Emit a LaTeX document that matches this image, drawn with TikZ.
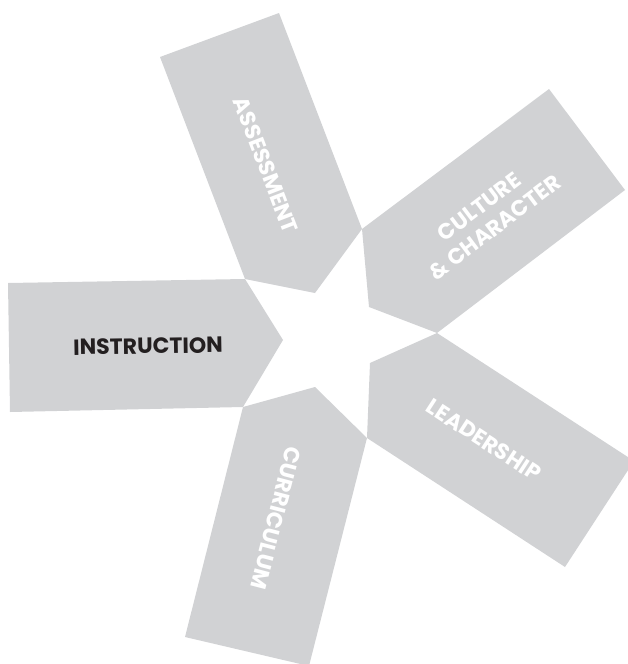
\documentclass[tikz,border=0pt]{standalone}
\usepackage{fontspec}
\setmainfont{Poppins}
\usetikzlibrary{positioning}
\definecolor{petalgray}{HTML}{D1D2D4}
\definecolor{inkdark}{HTML}{231F20}

\begin{document}
\begin{tikzpicture}[x=1pt,y=-1pt,
% Petal style
petal/.style={fill=petalgray,draw=none},
% Label style
tag/.style={font=\bfseries\fontsize{22}{26}\selectfont,text=white,
	align=center,inner sep=0pt},
]
\useasboundingbox (0,0) rectangle (627,664);
%% Shoulders shared by two petals
\coordinate (s1) at (245,279);
\coordinate (s2) at (362,229);
\coordinate (s3) at (437,333);
\coordinate (s4) at (367,438);
\coordinate (s5) at (243,407);
%% Tips round the star
\coordinate (ti) at (283,340);
\coordinate (ta) at (315,293);
\coordinate (tc) at (369,307);
\coordinate (tl) at (370,363);
\coordinate (tu) at (315,387);
%% Far ends
\coordinate (i1) at (8,283);   \coordinate (i2) at (10,412);
\coordinate (a1) at (160,57);  \coordinate (a2) at (279,13);
\coordinate (c1) at (549,89);  \coordinate (c2) at (625,190);
\coordinate (l1) at (634,461); \coordinate (l2) at (565,567);
\coordinate (u1) at (309,666); \coordinate (u2) at (185,637);
%% Draw petals
\fill[petal] (i2) -- (i1) -- (s1) -- (ti) -- (s5) -- cycle;
\fill[petal] (a1) -- (a2) -- (s2) -- (ta) -- (s1) -- cycle;
\fill[petal] (c1) -- (c2) -- (s3) -- (tc) -- (s2) -- cycle;
\fill[petal] (l1) -- (l2) -- (s4) -- (tl) -- (s3) -- cycle;
\fill[petal] (u1) -- (u2) -- (s5) -- (tu) -- (s4) -- cycle;
%% Labels
\node (instr) [tag,text=inkdark,rotate=1] at (148,346) {INSTRUCTION};
\node (assess) [tag,rotate=-69] at (266,165) {ASSESSMENT};
\node (cult) [tag,rotate=37] at (487,217) {CULTURE\\\& CHARACTER};
\node (lead) [tag,rotate=-33] at (484,440) {LEADERSHIP};
\node (curr) [tag,rotate=-104.5] at (276,518) {CURRICULUM};
\end{tikzpicture}
\end{document}
